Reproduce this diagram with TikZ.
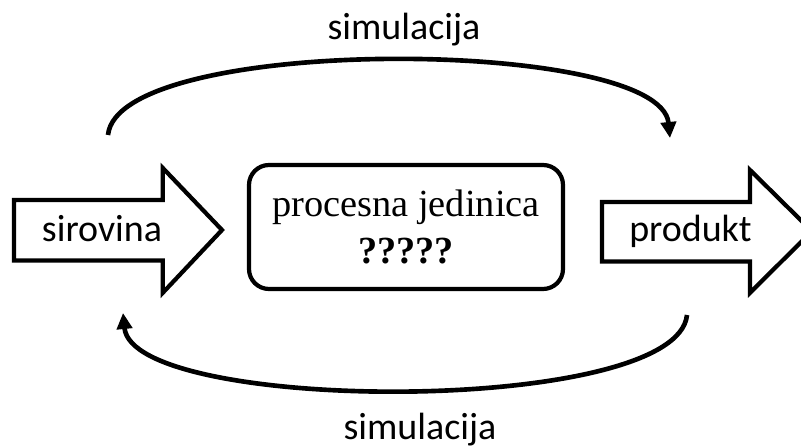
\documentclass[tikz,border=0pt]{standalone}
\usepackage{fontspec}
\setmainfont{Liberation Serif}
\newfontfamily\calfont{Carlito}
\usetikzlibrary{arrows.meta}

\begin{document}
\begin{tikzpicture}[line width=3pt,
		flow/.style={draw, line join=miter, fill=white},
		sim/.style={line width=3.3pt, -{Triangle[length=0.4cm,width=0.38cm]}},
		lbl/.style={font=\calfont\fontsize{27}{32}\selectfont, inner sep=0pt, anchor=base}]
	\useasboundingbox (0,0) rectangle (20.025,11.2);
	% ulaz i izlaz
	\draw[flow] (0.35,4.69) -- (4.07,4.69) -- (4.07,3.88) -- (5.55,5.45) -- (4.07,7.0) -- (4.07,6.2) -- (0.35,6.2) -- cycle;
	\draw[flow] (15.05,4.66) -- (18.75,4.66) -- (18.75,3.88) -- (20.3,5.42) -- (18.75,6.95) -- (18.75,6.15) -- (15.05,6.15) -- cycle;
	\node[lbl] (sirovina) at (2.55,5.16) {sirovina};
	\node[lbl] (produkt) at (17.26,5.16) {produkt};
	% procesna jedinica
	\node[draw, rounded corners=0.5cm, minimum width=7.85cm, minimum height=3.1cm, align=center,
		font=\fontsize{27.3}{31}\selectfont] (jedinica) at (10.15,5.525) {procesna jedinica\\[2pt]\textbf{?????}};
	% simulacija
	\coordinate (gore1) at (2.7,7.825);
	\coordinate (gore2) at (16.75,7.75);
	\coordinate (dolje1) at (17.175,3.325);
	\coordinate (dolje2) at (3.075,3.375);
	\draw[sim] (gore1) .. controls +(0.25,2.525) and +(-0.25,2.525) .. (gore2);
	\draw[sim] (dolje1) .. controls +(-0.25,-2.525) and +(0.25,-2.525) .. (dolje2);
	\node[lbl] (simgore) at (10.1,10.2) {simulacija};
	\node[lbl] (simdolje) at (10.5,0.2) {simulacija};
\end{tikzpicture}
\end{document}
